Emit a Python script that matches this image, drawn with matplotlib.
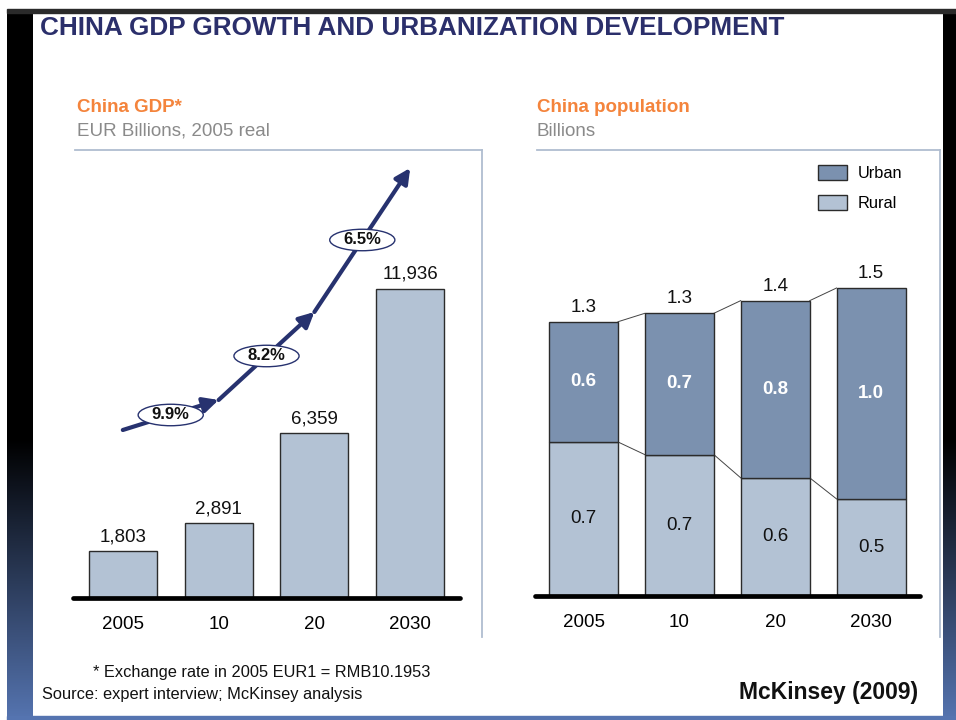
import numpy as np
import matplotlib
matplotlib.use("Agg")
import matplotlib.pyplot as plt
from matplotlib.patches import Rectangle, Ellipse, Patch

plt.rcParams['font.family'] = ['Liberation Sans', 'DejaVu Sans']

# ---------------- data ----------------
years = ["2005", "10", "20", "2030"]
gdp = [1803, 2891, 6359, 11936]
growth_labels = ["9.9%", "8.2%", "6.5%"]
# decorative growth arrow path (x = category index, y = GDP units)
arrow_x = [0, 1, 2, 3]
arrow_y = [6489, 7648, 11047, 16609]

urban = [0.57, 0.67, 0.84, 1.00]
rural = [0.73, 0.67, 0.56, 0.46]

title = "CHINA GDP GROWTH AND URBANIZATION DEVELOPMENT"

# ---------------- styles ----------------
NAVY = "#2b2f6b"
ARROW = "#27326f"
ORANGE = "#f4843c"
GREY = "#8a8a8a"
RURAL_C = "#b3c2d4"
URBAN_C = "#7b91af"
EDGE = "#2b2b2b"
RULE = "#b0bdd0"

W, H = 956, 720
fig = plt.figure(figsize=(W / 100, H / 100), dpi=100)

# background / frame in pixel coordinates
bg = fig.add_axes([0, 0, 1, 1], zorder=-5)
bg.axis("off")

n = 300
yy = np.linspace(12, H, n)
t = np.clip((yy - 440) / (H - 440), 0, 1)
c0 = np.array([0, 0, 0])
c1 = np.array([0x55, 0x74, 0xb0]) / 255
grad = (c0[None, :] * (1 - t[:, None]) + c1[None, :] * t[:, None])[:, None, :]
bg.imshow(grad, extent=(7, 33, H, 12), aspect="auto", zorder=1)
bg.imshow(grad, extent=(943, W, H, 12), aspect="auto", zorder=1)
bg.add_patch(Rectangle((7, 716), W - 7, 4, color="#5574b0", zorder=1))
bg.add_patch(Rectangle((7, 9), W - 7, 3.5, color="#2a2a2a", zorder=2))
bg.set_xlim(0, W)
bg.set_ylim(H, 0)

# title and headers
bg.text(40, 28, title, color=NAVY, fontsize=18.8, fontweight="bold", va="center", ha="left")
bg.text(77, 107, "China GDP*", color=ORANGE, fontsize=13.5, fontweight="bold", va="center")
bg.text(77, 131, "EUR Billions, 2005 real", color=GREY, fontsize=13.5, va="center")
bg.text(537, 107, "China population", color=ORANGE, fontsize=13.5, fontweight="bold", va="center")
bg.text(537, 131, "Billions", color=GREY, fontsize=13.5, va="center")

# panel rules
bg.plot([75, 482], [150, 150], color=RULE, lw=1.3, zorder=3)
bg.plot([482, 482], [150, 637], color=RULE, lw=1.3, zorder=3)
bg.plot([537, 940], [150, 150], color=RULE, lw=1.3, zorder=3)
bg.plot([940, 940], [150, 637], color=RULE, lw=1.3, zorder=3)

# footnotes
bg.text(93, 672, "* Exchange rate in 2005 EUR1 = RMB10.1953", fontsize=11.8, va="center", color="#111111")
bg.text(42, 695, "Source: expert interview; McKinsey analysis", fontsize=11.8, va="center", color="#111111")
bg.text(918, 692, "McKinsey (2009)", fontsize=16.5, fontweight="bold", ha="right", va="center", color="#111111")


def px_axes(left, right, base, top):
    return fig.add_axes([left / W, (H - base) / H, (right - left) / W, (base - top) / H])


# ---------------- left chart: GDP ----------------
ax1 = px_axes(73, 460, 598, 150)
ax1.patch.set_alpha(0)
x = np.arange(len(years))
ax1.bar(x, gdp, width=0.71, color=RURAL_C, edgecolor=EDGE, linewidth=1, zorder=2)
ax1.set_xlim(-0.52, 3.52)
ax1.set_ylim(0, 17304)
for s in ["left", "right", "top"]:
    ax1.spines[s].set_visible(False)
ax1.spines["bottom"].set_linewidth(3.4)
ax1.spines["bottom"].set_capstyle("round")
ax1.spines["bottom"].set_zorder(5)
ax1.set_yticks([])
ax1.set_xticks(x)
ax1.set_xticklabels(years, fontsize=13.5)
ax1.tick_params(axis="x", length=0, pad=13)
for xi, v in zip(x, gdp):
    ax1.annotate(f"{v:,}", (xi, v), xytext=(0, 10.5), textcoords="offset points",
                 ha="center", va="center", fontsize=13.5, color="#111111")

# growth arrow
for i in range(len(arrow_x) - 1):
    ax1.annotate("", xy=(arrow_x[i + 1], arrow_y[i + 1]), xytext=(arrow_x[i], arrow_y[i]),
                 arrowprops=dict(arrowstyle="-|>,head_length=0.9,head_width=0.45",
                                 lw=3, color=ARROW, shrinkA=0, shrinkB=0),
                 annotation_clip=False, zorder=3)
    xm = (arrow_x[i] + arrow_x[i + 1]) / 2
    ym = (arrow_y[i] + arrow_y[i + 1]) / 2
    ax1.add_patch(Ellipse((xm, ym), 0.68, 830, facecolor="white", edgecolor=ARROW,
                          lw=1, zorder=4, clip_on=False))
    ax1.text(xm, ym, growth_labels[i], ha="center", va="center", fontsize=12,
             fontweight="bold", color="#111111", zorder=5)

# ---------------- right chart: population ----------------
ax2 = px_axes(535, 920, 596, 150)
ax2.patch.set_alpha(0)
bw = 0.72
ax2.bar(x, rural, width=bw, color=RURAL_C, edgecolor=EDGE, linewidth=1, zorder=2, label="Rural")
ax2.bar(x, urban, width=bw, bottom=rural, color=URBAN_C, edgecolor=EDGE, linewidth=1, zorder=2, label="Urban")
ax2.set_xlim(-0.506, 3.51)
ax2.set_ylim(0, 2.114)
for s in ["left", "right", "top"]:
    ax2.spines[s].set_visible(False)
ax2.spines["bottom"].set_linewidth(3.4)
ax2.spines["bottom"].set_capstyle("round")
ax2.spines["bottom"].set_zorder(5)
ax2.set_yticks([])
ax2.set_xticks(x)
ax2.set_xticklabels(years, fontsize=13.5)
ax2.tick_params(axis="x", length=0, pad=13)

totals = [u + r for u, r in zip(urban, rural)]
for i in range(len(years)):
    ax2.text(i, rural[i] / 2, f"{rural[i]:.1f}", ha="center", va="center", fontsize=13.5, color="#111111")
    ax2.text(i, rural[i] + urban[i] / 2, f"{urban[i]:.1f}", ha="center", va="center",
             fontsize=13.5, fontweight="bold", color="white")
    ax2.annotate(f"{totals[i]:.1f}", (i, totals[i]), xytext=(0, 10.5), textcoords="offset points",
                 ha="center", va="center", fontsize=13.5, color="#111111")
for i in range(len(years) - 1):
    ax2.plot([i + bw / 2, i + 1 - bw / 2], [totals[i], totals[i + 1]], color="#444444", lw=0.7, zorder=1)
    ax2.plot([i + bw / 2, i + 1 - bw / 2], [rural[i], rural[i + 1]], color="#444444", lw=0.7, zorder=1)

handles = [Patch(facecolor=URBAN_C, edgecolor=EDGE, label="Urban"),
           Patch(facecolor=RURAL_C, edgecolor=EDGE, label="Rural")]
fig.legend(handles=handles, loc="upper left", bbox_to_anchor=(813 / W, 1 - 160 / H),
           frameon=False, fontsize=11.8, handlelength=1.8, handleheight=1.05,
           labelspacing=0.85, handletextpad=0.65, borderpad=0.3, borderaxespad=0)

fig.savefig("out.png", dpi=100)
